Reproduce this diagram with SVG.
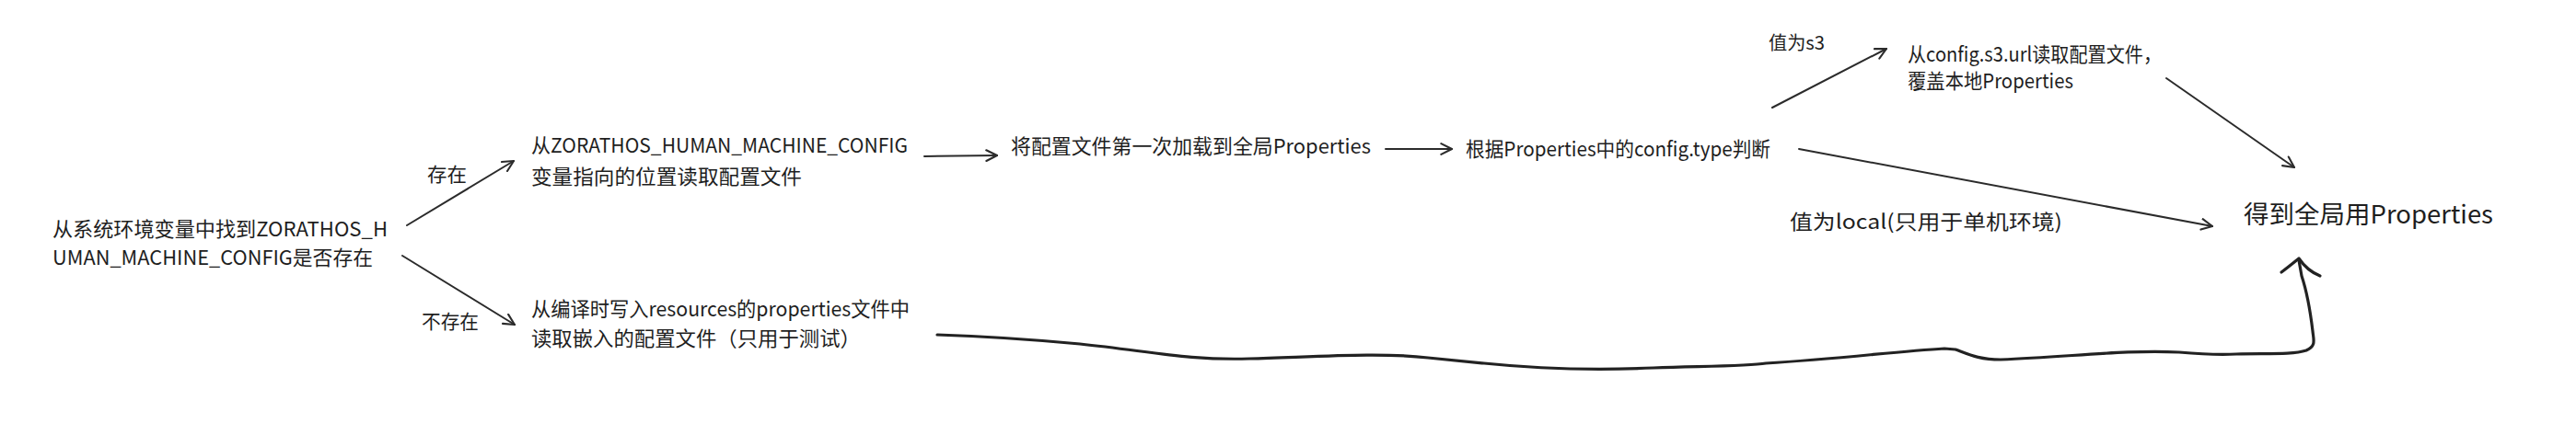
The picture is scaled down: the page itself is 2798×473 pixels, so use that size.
<svg xmlns="http://www.w3.org/2000/svg" width="2798" height="473" viewBox="0 0 2798 473">
<defs>
<style>
text{font-family:"Noto Sans CJK SC","Noto Sans",sans-serif;fill:#1e1e1e;font-size:22px}
.lbl{font-size:21px}
.sm{font-size:20px}
.big{font-size:27px}
.ln{fill:none;stroke:#2b2b2b;stroke-width:2;stroke-linecap:round;stroke-linejoin:round}
.thick{fill:none;stroke:#222;stroke-width:3.2;stroke-linecap:round;stroke-linejoin:round}
</style>
<marker id="ah" viewBox="0 0 12 12" refX="11" refY="6" markerWidth="14" markerHeight="14" markerUnits="userSpaceOnUse" orient="auto">
<path d="M1,1 L11,6 L1,11" fill="none" stroke="#2b2b2b" stroke-width="1.8" stroke-linecap="round" stroke-linejoin="round"/>
</marker>
</defs>
<rect width="2798" height="473" fill="#ffffff"/>
<g id="n-check">
<text x="57" y="257" textLength="364" lengthAdjust="spacingAndGlyphs">从系统环境变量中找到ZORATHOS_H</text>
<text x="57" y="288" textLength="348" lengthAdjust="spacingAndGlyphs">UMAN_MACHINE_CONFIG是否存在</text>
</g>
<g id="n-env">
<text x="577" y="166" textLength="409" lengthAdjust="spacingAndGlyphs">从ZORATHOS_HUMAN_MACHINE_CONFIG</text>
<text x="577" y="200" textLength="294" lengthAdjust="spacingAndGlyphs">变量指向的位置读取配置文件</text>
</g>
<g id="n-res">
<text x="577" y="344" textLength="411" lengthAdjust="spacingAndGlyphs">从编译时写入resources的properties文件中</text>
<text x="577" y="376" textLength="358" lengthAdjust="spacingAndGlyphs">读取嵌入的配置文件（只用于测试）</text>
</g>
<g id="n-load">
<text x="1098" y="167" textLength="391" lengthAdjust="spacingAndGlyphs">将配置文件第一次加载到全局Properties</text>
</g>
<g id="n-judge">
<text x="1592" y="170" textLength="331" lengthAdjust="spacingAndGlyphs">根据Properties中的config.type判断</text>
</g>
<g id="n-s3">
<text x="2072" y="67" textLength="276" lengthAdjust="spacingAndGlyphs">从config.s3.url读取配置文件，</text>
<text x="2072" y="96" textLength="180" lengthAdjust="spacingAndGlyphs">覆盖本地Properties</text>
</g>
<g id="n-result">
<text class="big" x="2437" y="243" textLength="271" lengthAdjust="spacingAndGlyphs">得到全局用Properties</text>
</g>
<g id="connectors">
<path class="ln" d="M442,245 L558,175" marker-end="url(#ah)"/>
<path class="ln" d="M437,278 L559,353" marker-end="url(#ah)"/>
<path class="ln" d="M1004,170 L1083,169" marker-end="url(#ah)"/>
<path class="ln" d="M1505,162 L1577,162" marker-end="url(#ah)"/>
<path class="ln" d="M1954,162 L2403,246" marker-end="url(#ah)"/>
<path class="ln" d="M1925,117 L2049,53" marker-end="url(#ah)"/>
<path class="ln" d="M2353,85 L2492,182" marker-end="url(#ah)"/>
<path class="thick" d="M1018,364 C1080,366 1130,370 1173,374 C1250,382 1290,392 1357,390 C1430,388 1500,383 1551,389 C1590,393 1600,394 1612,395 C1680,402 1750,402 1796,400 C1860,398 1900,398 1918,395 C2000,390 2060,382 2112,379 L2124,380 C2140,386 2150,391 2173,391 C2250,388 2310,380 2367,383 C2390,385 2410,386 2429,385 C2460,384 2490,386 2505,381 C2516,376 2513,370 2512,360 C2509,335 2505,315 2500,300 L2497,283"/>
<path class="thick" d="M2478,296 C2486,290 2492,285 2497,281 C2503,290 2510,296 2520,300"/>
<text class="lbl" x="464" y="197" textLength="43" lengthAdjust="spacingAndGlyphs">存在</text>
<text class="lbl" x="458" y="357" textLength="62" lengthAdjust="spacingAndGlyphs">不存在</text>
<text class="sm" x="1921" y="54" textLength="61" lengthAdjust="spacingAndGlyphs">值为s3</text>
<text x="1944" y="249" textLength="296" lengthAdjust="spacingAndGlyphs">值为local(只用于单机环境)</text>
</g>
</svg>
